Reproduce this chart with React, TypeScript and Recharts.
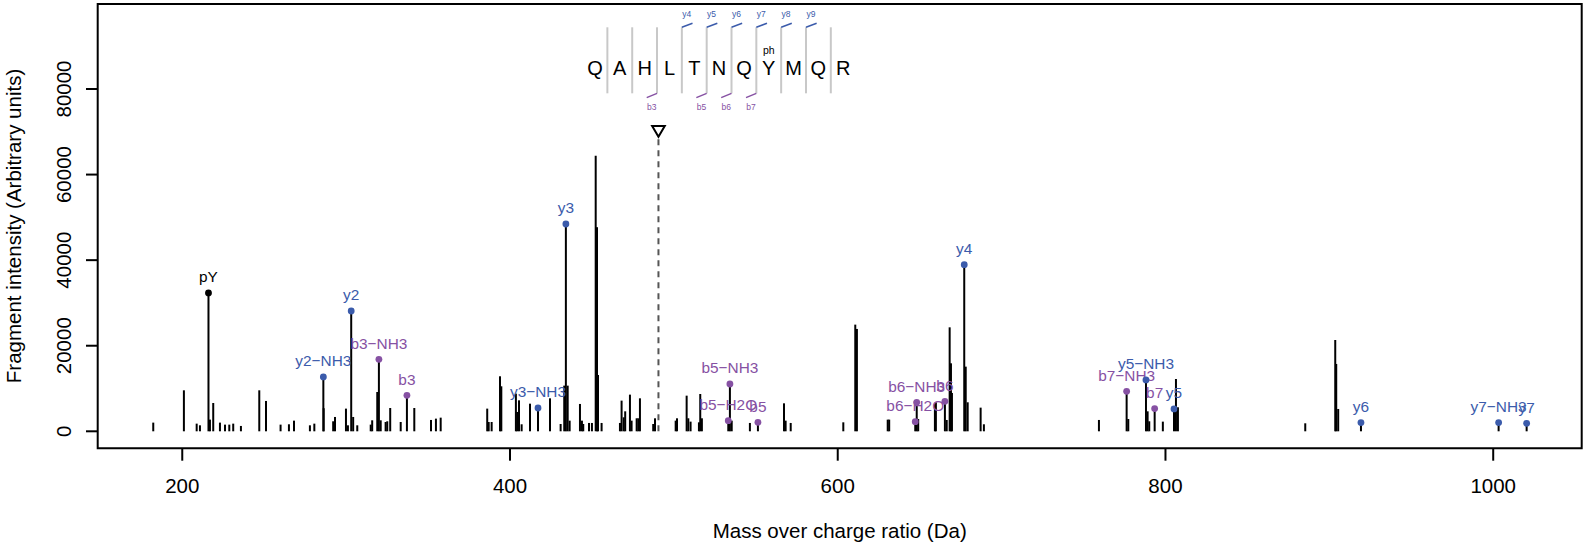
import React from 'react';
import { ScatterChart, Scatter, XAxis, YAxis, ReferenceLine, ReferenceArea } from 'recharts';

// unannotated fragment peaks (m/z, intensity)
const peakMz = [
  182.3, 201.0, 208.8, 210.8, 216.9, 218.9, 223.0, 226.1, 228.7, 231.1, 235.8, 247.0, 251.1,
  260.0, 265.1, 268.2, 277.9, 280.6, 286.3, 292.1, 293.2, 299.9, 301.1, 304.3, 306.8, 315.0,
  315.9, 319.0, 321.1, 324.1, 325.1, 326.9, 333.3, 341.6, 351.8, 354.8, 357.7, 386.1, 387.0,
  388.8, 393.9, 394.7, 403.6, 404.4, 405.5, 407.1, 412.2, 424.4, 430.9, 433.1, 435.2, 436.4,
  442.7, 443.9, 444.7, 448.2, 450.0, 452.3, 453.1, 453.7, 455.9, 467.1, 468.1, 469.4, 470.3,
  473.2, 474.2, 477.3, 478.3, 479.3, 487.4, 488.5, 501.1, 501.9, 507.8, 508.8, 510.2, 515.3,
  516.1, 517.1, 535.3, 546.4, 567.2, 568.2, 571.3, 603.4, 610.7, 611.7, 630.5, 631.4, 649.1,
  659.3, 659.9, 666.5, 668.3, 669.1, 669.7, 678.1, 679.3, 687.2, 689.2, 759.4, 777.3, 789.1,
  790.1, 798.4, 806.4, 807.6, 885.3, 903.6, 904.2, 905.4,
];
const peakIntensity = [
  2030, 9580, 1790, 1400, 2730, 6620, 2030, 1560, 1560, 1790, 1250, 9580, 7090,
  1560, 1640, 2490, 1400, 1790, 5400, 2340, 3350, 5300, 1400, 3350, 1400, 1560,
  2570, 9190, 2570, 2180, 2340, 5450, 2180, 5450, 2650, 2960, 3190, 5300, 2180,
  2180, 12860, 10520, 8800, 4520, 7240, 1640, 6460, 7710, 1710, 10670, 10670, 2490,
  6390, 2490, 1710, 1950, 1950, 64420, 47700, 13160, 1950, 1950, 7170, 3270, 4670,
  8570, 2490, 3040, 3040, 7710, 1710, 3040, 2490, 3040, 8330, 3040, 2260, 2100,
  8720, 3040, 2490, 1950, 6540, 2490, 1950, 2100, 24930, 23920, 2730, 2730, 2880,
  6390, 6780, 2650, 24300, 15890, 8960, 15110, 6780, 5530, 1640, 2650, 2880, 4670,
  2340, 2260, 12230, 5610, 1870, 21340, 15740, 5220,
];

// annotated ions
const ionNames = [
  'pY', 'y2−NH3', 'y2', 'b3−NH3', 'b3', 'y3−NH3', 'y3', 'b5−H2O', 'b5−NH3', 'b5', 'b6−H2O',
  'b6−NH3', 'b6', 'y4', 'b7−NH3', 'y5−NH3', 'b7', 'y5', 'y6', 'y7−NH3', 'y7',
];
const ionMz = [
  216.0, 286.1, 303.1, 320.0, 337.1, 417.1, 434.1, 533.2, 534.2, 551.3, 647.3,
  648.2, 665.4, 677.2, 776.3, 788.1, 793.4, 805.2, 919.3, 1003.3, 1020.4,
];
const ionIntensity = [
  32330, 12700, 28120, 16830, 8410, 5450, 48450, 2490, 11060, 2100, 2260,
  6780, 7010, 38950, 9350, 12000, 5300, 5220, 2030, 2030, 1870,
];
const ionSeries = ['p', 'y', 'y', 'b', 'b', 'y', 'y', 'b', 'b', 'b', 'b', 'b', 'b', 'y', 'b', 'y', 'b', 'y', 'y', 'y', 'y'];

const peptide = ['Q', 'A', 'H', 'L', 'T', 'N', 'Q', 'Y', 'M', 'Q', 'R'];
const yCuts = [3, 4, 5, 6, 7, 8];
const yCutLabels = ['y4', 'y5', 'y6', 'y7', 'y8', 'y9'];
const bCuts = [2, 4, 5, 6];
const bCutLabels = ['b3', 'b5', 'b6', 'b7'];
const phosphoIndex = 7;

const precursorMz = 490.6;
const precursorMark = 70100;

const xTicks = [200, 400, 600, 800, 1000];
const yTicks = [0, 20000, 40000, 60000, 80000];
const xDomain = [148.4, 1054];
const yDomain = [-3973, 99865];

const FONT = '"Liberation Sans", Arial, Helvetica, sans-serif';
const BLUE = '#3b5bab';
const PURPLE = '#8651a3';
const seriesColor: Record<string, string> = { y: BLUE, b: PURPLE, p: '#000' };

// peptide map placement (data units)
const SEQ_X0 = 451.85;
const SEQ_DX = 15.15;
const LETTER_Y = 83270;
const SEP_TOP = 94420;
const SEP_BOTTOM = 78990;

const ions = ionMz.map((x, i) => ({ x, y: ionIntensity[i], name: ionNames[i], color: seriesColor[ionSeries[i]] }));
const letters = peptide.map((aa, i) => ({ x: SEQ_X0 + i * SEQ_DX, y: LETTER_Y, aa }));
const cutX = (i: number) => SEQ_X0 + (i + 0.5) * SEQ_DX;
const smallLabels = [
  ...yCuts.map((c, i) => ({ x: cutX(c) + 3, y: 96900, text: yCutLabels[i], color: BLUE, size: 8.5 })),
  ...bCuts.map((c, i) => ({ x: cutX(c) - 3.2, y: 75000, text: bCutLabels[i], color: PURPLE, size: 8.5 })),
  { x: SEQ_X0 + phosphoIndex * SEQ_DX, y: 88180, text: 'ph', color: '#000', size: 10.5 },
];

const IonMark = (p: any) => (
  <g>
    <circle cx={p.cx} cy={p.cy} r={3.4} fill={p.payload.color} />
    <text x={p.cx} y={p.cy - 10.5} textAnchor="middle" fontSize={15.4} fill={p.payload.color} fontFamily={FONT}>
      {p.payload.name}
    </text>
  </g>
);

const LetterMark = (p: any) => (
  <text x={p.cx} y={p.cy} textAnchor="middle" fontSize={20} fill="#000" fontFamily={FONT}>
    {p.payload.aa}
  </text>
);

const SmallText = (p: any) => (
  <text x={p.cx} y={p.cy} textAnchor="middle" fontSize={p.payload.size} fill={p.payload.color} fontFamily={FONT}>
    {p.payload.text}
  </text>
);

const Triangle = (p: any) => (
  <path
    d={`M${p.cx - 6.3},${p.cy - 5.3} L${p.cx + 6.3},${p.cy - 5.3} L${p.cx},${p.cy + 5.4} Z`}
    fill="#fff"
    stroke="#000"
    strokeWidth={2}
  />
);

const XTick = ({ x, y, payload }: any) => (
  <text x={x} y={y + 31.8} textAnchor="middle" fontSize={20.5} fill="#000" fontFamily={FONT}>
    {payload.value}
  </text>
);

const YTick = ({ x, y, payload }: any) => (
  <g transform={`translate(${x - 15},${y}) rotate(-90)`}>
    <text x={0} y={0} textAnchor="middle" fontSize={20.5} fill="#000" fontFamily={FONT}>
      {payload.value}
    </text>
  </g>
);

export default function App() {
  return (
    <div style={{ position: 'absolute', left: 0, top: 0, width: 1591, height: 550, background: '#fff' }}>
      <ScatterChart width={1591} height={550} margin={{ top: 4, right: 9.3, bottom: 41.7, left: 0 }}>
        <XAxis
          type="number"
          dataKey="x"
          domain={xDomain}
          ticks={xTicks}
          allowDataOverflow
          axisLine={false}
          tickLine={{ stroke: '#000', strokeWidth: 2 }}
          tickSize={12.4}
          tickMargin={0}
          height={60}
          tick={<XTick />}
        />
        <YAxis
          type="number"
          dataKey="y"
          domain={yDomain}
          ticks={yTicks}
          allowDataOverflow
          axisLine={false}
          tickLine={{ stroke: '#000', strokeWidth: 2 }}
          tickSize={11.7}
          tickMargin={0}
          width={97.7}
          tick={<YTick />}
        />

        {peakMz.map((mz, i) => (
          <ReferenceLine
            key={`pk${i}`}
            segment={[{ x: mz, y: 0 }, { x: mz, y: peakIntensity[i] }]}
            stroke="#000"
            strokeWidth={2}
          />
        ))}
        {ionMz.map((mz, i) => (
          <ReferenceLine
            key={`ion${i}`}
            segment={[{ x: mz, y: 0 }, { x: mz, y: ionIntensity[i] }]}
            stroke="#000"
            strokeWidth={2}
          />
        ))}

        <ReferenceLine
          segment={[{ x: precursorMz, y: 0 }, { x: precursorMz, y: 68480 }]}
          stroke="#555"
          strokeWidth={2}
          strokeDasharray="6 5"
        />

        {peptide.slice(1).map((_, i) => (
          <ReferenceLine
            key={`sep${i}`}
            segment={[{ x: cutX(i), y: SEP_BOTTOM }, { x: cutX(i), y: SEP_TOP }]}
            stroke="#c8c8c8"
            strokeWidth={2}
          />
        ))}
        {yCuts.map((c) => (
          <ReferenceLine
            key={`yc${c}`}
            segment={[{ x: cutX(c), y: SEP_TOP }, { x: cutX(c) + 6.5, y: SEP_TOP + 935 }]}
            stroke={BLUE}
            strokeWidth={1.5}
          />
        ))}
        {bCuts.map((c) => (
          <ReferenceLine
            key={`bc${c}`}
            segment={[{ x: cutX(c), y: SEP_BOTTOM }, { x: cutX(c) - 6.3, y: SEP_BOTTOM - 1005 }]}
            stroke={PURPLE}
            strokeWidth={1.5}
          />
        ))}

        <Scatter data={ions} shape={<IonMark />} isAnimationActive={false} />
        <Scatter data={letters} shape={<LetterMark />} isAnimationActive={false} />
        <Scatter data={smallLabels} shape={<SmallText />} isAnimationActive={false} />
        <Scatter data={[{ x: precursorMz, y: precursorMark }]} shape={<Triangle />} isAnimationActive={false} />

        <ReferenceArea
          x1={xDomain[0]}
          x2={xDomain[1]}
          y1={yDomain[0]}
          y2={yDomain[1]}
          fill="none"
          stroke="#000"
          strokeWidth={2}
          ifOverflow="visible"
        />
      </ScatterChart>
      <svg width={1591} height={550} style={{ position: 'absolute', left: 0, top: 0, pointerEvents: 'none' }}>
        <text x={839.7} y={538} textAnchor="middle" fontSize={20.5} fontFamily={FONT} fill="#000">
          Mass over charge ratio (Da)
        </text>
        <text transform="translate(20.5,226) rotate(-90)" textAnchor="middle" fontSize={20.5} fontFamily={FONT} fill="#000">
          Fragment intensity (Arbitrary units)
        </text>
      </svg>
    </div>
  );
}
